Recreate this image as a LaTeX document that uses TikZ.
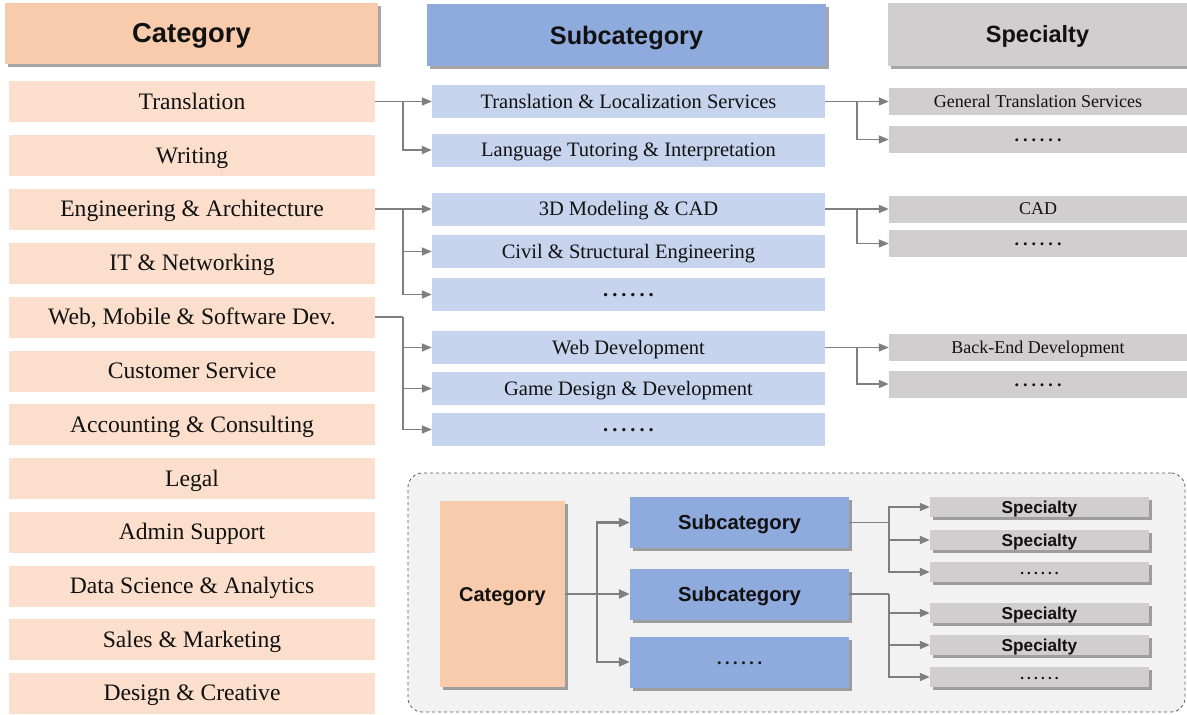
\documentclass[tikz,border=0pt]{standalone}
\usepackage{fontspec}
\setmainfont{Liberation Serif}
\setsansfont{Liberation Sans}
\usetikzlibrary{arrows.meta,shadows}
\definecolor{catH}{HTML}{F8CBAD}
\definecolor{catR}{HTML}{FBDFCC}
\definecolor{subH}{HTML}{8FAADC}
\definecolor{subR}{HTML}{C7D4ED}
\definecolor{speH}{HTML}{D0CECE}
\definecolor{speR}{HTML}{D0CECE}
\definecolor{conn}{HTML}{7F7F7F}
\definecolor{insetbg}{HTML}{F2F2F2}
\definecolor{txt}{HTML}{111111}
\newcommand{\sixdots}[1]{\textbf{.\kern#1.\kern#1.\kern#1.\kern#1.\kern#1.}}
\tikzset{
  box/.style={rectangle, inner sep=0pt, text=txt, draw=none, text depth=0pt},
  shad/.style={drop shadow={shadow xshift=2.5pt, shadow yshift=-3pt, fill=black, opacity=0.35}},
  hdr/.style={box, shad, font=\sffamily\bfseries\fontsize{25.3}{30}\selectfont, text height=18.1pt},
  catrow/.style={box, fill=catR, minimum width=366pt, minimum height=41pt, font=\fontsize{23.6}{26}\selectfont, text height=15.6pt},
  subrow/.style={box, fill=subR, minimum width=393pt, minimum height=33pt, font=\fontsize{20.5}{24}\selectfont, text height=13.6pt},
  sperow/.style={box, fill=speR, minimum width=298pt, minimum height=27pt, font=\fontsize{18}{20}\selectfont, text height=11.9pt},
  icat/.style={box, shad, fill=catH, minimum width=125pt, minimum height=186pt, font=\sffamily\bfseries\fontsize{20}{24}\selectfont, text height=14.3pt},
  isub/.style={box, shad, fill=subH, minimum width=219pt, minimum height=51pt, font=\sffamily\bfseries\fontsize{20.3}{24}\selectfont, text height=14.5pt},
  ispe/.style={box, shad, fill=speH, minimum width=219pt, minimum height=20pt, font=\sffamily\bfseries\fontsize{17.2}{20}\selectfont, text height=12.3pt},
  dotsnode/.style={text height=4pt, text depth=0pt},
  ln/.style={draw=conn, line width=1.8pt},
  arr/.style={ln, -{Triangle[length=10pt,width=8pt]}},
  ilnA/.style={draw=conn, line width=2.5pt, -{Triangle[length=11pt,width=9pt]}},
  ilnB/.style={draw=conn, line width=1.8pt, -{Triangle[length=10pt,width=8pt]}},
}
\begin{document}
\begin{tikzpicture}[x=1pt,y=-1pt]
\useasboundingbox (0,0) rectangle (1187,715);
% headers
\node[hdr, fill=catH, minimum width=373pt, minimum height=61pt, font=\sffamily\bfseries\fontsize{27.4}{32}\selectfont, text height=19.6pt] (hc) at (191.5,33) {Category};
\node[hdr, fill=subH, minimum width=399pt, minimum height=62pt] (hs) at (626.5,35) {Subcategory};
\node[hdr, fill=speH, minimum width=299pt, minimum height=63pt, font=\sffamily\bfseries\fontsize{23.5}{28}\selectfont, text height=16.8pt] (hp) at (1037.5,34.5) {Specialty};
% category rows
\node[catrow] (c1) at (192,101.5) {Translation};
\node[catrow] (c2) at (192,155.5) {Writing};
\node[catrow] (c3) at (192,209) {Engineering \& Architecture};
\node[catrow] (c4) at (192,263) {IT \& Networking};
\node[catrow] (c5) at (192,317) {Web, Mobile \& Software Dev.};
\node[catrow] (c6) at (192,371) {Customer Service};
\node[catrow] (c7) at (192,424.5) {Accounting \& Consulting};
\node[catrow] (c8) at (192,478.5) {Legal};
\node[catrow] (c9) at (192,532) {Admin Support};
\node[catrow] (c10) at (192,586) {Data Science \& Analytics};
\node[catrow] (c11) at (192,639.5) {Sales \& Marketing};
\node[catrow] (c12) at (192,693) {Design \& Creative};
% subcategory rows
\node[subrow] (s1) at (628.5,101.5) {Translation \& Localization Services};
\node[subrow] (s2) at (628.5,150) {Language Tutoring \& Interpretation};
\node[subrow] (s3) at (628.5,209) {3D Modeling \& CAD};
\node[subrow] (s4) at (628.5,251.5) {Civil \& Structural Engineering};
\node[subrow, dotsnode] (s5) at (628.5,294.5) {\sixdots{4pt}};
\node[subrow] (s6) at (628.5,347.5) {Web Development};
\node[subrow] (s7) at (628.5,388.5) {Game Design \& Development};
\node[subrow, dotsnode] (s8) at (628.5,429.5) {\sixdots{4pt}};
% specialty rows
\node[sperow] (p1) at (1038,101.5) {General Translation Services};
\node[sperow, dotsnode] (p2) at (1038,139.5) {\sixdots{4pt}};
\node[sperow] (p3) at (1038,209) {CAD};
\node[sperow, dotsnode] (p4) at (1038,243.5) {\sixdots{4pt}};
\node[sperow] (p5) at (1038,347.5) {Back-End Development};
\node[sperow, dotsnode] (p6) at (1038,384) {\sixdots{4pt}};
% branch coordinates
\coordinate (bx) at (403,0);
\coordinate (px) at (857,0);
% category -> subcategory
\draw[arr] (c1.east) -- (s1.west);
\draw[arr] (c1.east -| bx) |- (s2.west);
\draw[arr] (c3.east) -- (s3.west);
\draw[arr] (c3.east -| bx) |- (s4.west);
\draw[arr] (c3.east -| bx) |- (s5.west);
\draw[ln] (c5.east) -- (c5.east -| bx);
\draw[arr] (c5.east -| bx) |- (s6.west);
\draw[arr] (c5.east -| bx) |- (s7.west);
\draw[arr] (c5.east -| bx) |- (s8.west);
% subcategory -> specialty
\draw[arr] (s1.east) -- (p1.west);
\draw[arr] (s1.east -| px) |- (p2.west);
\draw[arr] (s3.east) -- (p3.west);
\draw[arr] (s3.east -| px) |- (p4.west);
\draw[arr] (s6.east) -- (p5.west);
\draw[arr] (s6.east -| px) |- (p6.west);
% inset legend
\node[draw=black!65, dashed, line width=0.8pt, fill=insetbg, rounded corners=14pt, inner sep=0pt, minimum width=777pt, minimum height=239pt] (inset) at (796.5,592.5) {};
\node[icat] (ic) at (502.5,594) {Category};
\node[isub] (is1) at (739.5,522.5) {Subcategory};
\node[isub] (is2) at (739.5,594) {Subcategory};
\node[isub, dotsnode, font=\fontsize{18}{20}\selectfont] (is3) at (739.5,662) {\sixdots{3.6pt}};
\node[ispe] (ip1) at (1039.5,507) {Specialty};
\node[ispe] (ip2) at (1039.5,540) {Specialty};
\node[ispe, dotsnode, font=\fontsize{15}{16}\selectfont] (ip3) at (1039.5,572) {\sixdots{3.2pt}};
\node[ispe] (ip4) at (1039.5,613) {Specialty};
\node[ispe] (ip5) at (1039.5,645) {Specialty};
\node[ispe, dotsnode, font=\fontsize{15}{16}\selectfont] (ip6) at (1039.5,677) {\sixdots{3.2pt}};
\coordinate (ibx) at (597,0);
\coordinate (ipx) at (889,0);
\draw[ilnA] (ic.east) -- (is2.west);
\draw[ilnA] (ic.east -| ibx) |- (is1.west);
\draw[ilnA] (ic.east -| ibx) |- (is3.west);
\draw[draw=conn, line width=1.8pt] (is1.east) -- (is1.east -| ipx);
\draw[ilnB] (is1.east -| ipx) |- (ip1.west);
\draw[ilnB] (is1.east -| ipx) |- (ip2.west);
\draw[ilnB] (is1.east -| ipx) |- (ip3.west);
\draw[draw=conn, line width=1.8pt] (is2.east) -- (is2.east -| ipx);
\draw[ilnB] (is2.east -| ipx) |- (ip4.west);
\draw[ilnB] (is2.east -| ipx) |- (ip5.west);
\draw[ilnB] (is2.east -| ipx) |- (ip6.west);
\end{tikzpicture}
\end{document}
